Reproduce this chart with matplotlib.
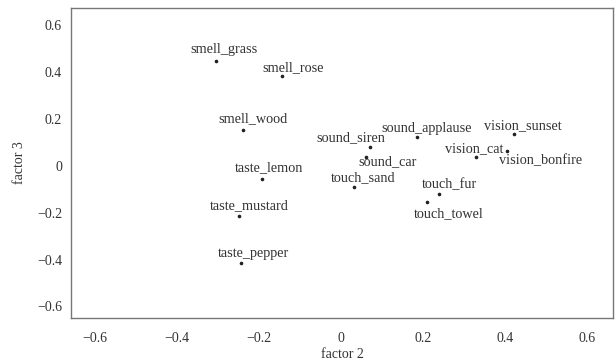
import matplotlib
matplotlib.use('Agg')
import matplotlib.pyplot as plt

# factor loadings
labels = ['smell_grass', 'smell_rose', 'smell_wood', 'taste_lemon', 'taste_mustard',
          'taste_pepper', 'sound_applause', 'sound_siren', 'sound_car', 'touch_sand',
          'touch_fur', 'touch_towel', 'vision_sunset', 'vision_cat', 'vision_bonfire']
factor2 = [-0.305, -0.144, -0.239, -0.193, -0.249, -0.244, 0.185, 0.071, 0.061, 0.032,
           0.239, 0.210, 0.422, 0.329, 0.405]
factor3 = [0.445, 0.381, 0.151, -0.057, -0.215, -0.415, 0.121, 0.079, 0.036, -0.091,
           -0.121, -0.155, 0.134, 0.036, 0.062]

# label offsets in pixels (dx right, dy down)
offsets = [(8, -12), (11, -8), (10, -11), (7, -11), (10, -10), (12, -10), (10, -9),
           (-19, -9), (21, 5), (9, -9), (10, -9), (22, 12), (9, -8), (-2, -8), (33, 10)]

ticks = [-0.6, -0.4, -0.2, 0, 0.2, 0.4, 0.6]
tick_labels = ['\u22120.6', '\u22120.4', '\u22120.2', '0', '0.2', '0.4', '0.6']

plt.rcParams['font.family'] = ['Liberation Serif', 'DejaVu Serif']

fig = plt.figure(figsize=(6.16, 3.63), dpi=100)
ax = fig.add_axes([0.1153, 0.124, 0.8797, 0.854])

ax.plot(factor2, factor3, 'o', color='#222222', markersize=1.6, linestyle='none')
for name, x, y, (dx, dy) in zip(labels, factor2, factor3, offsets):
    ax.annotate(name, (x, y), xytext=(dx * 0.72, -dy * 0.72), textcoords='offset points',
                ha='center', va='center', fontsize=10.3, color='#333333')

ax.set_xlim(-0.659, 0.663)
ax.set_ylim(-0.649, 0.671)
ax.set_xticks(ticks)
ax.set_xticklabels(tick_labels)
ax.set_yticks(ticks)
ax.set_yticklabels(tick_labels)
ax.tick_params(axis='x', length=0, labelsize=10, colors='#333333', pad=10)
ax.tick_params(axis='y', length=0, labelsize=10, colors='#333333', pad=6.5)
for s in ax.spines.values():
    s.set_color('#777777')
    s.set_linewidth(1)

ax.set_xlabel('factor 2', fontsize=10, color='#333333', labelpad=2)
ax.set_ylabel('factor 3', fontsize=10, color='#333333', labelpad=8)

fig.savefig('out.png', dpi=100)
